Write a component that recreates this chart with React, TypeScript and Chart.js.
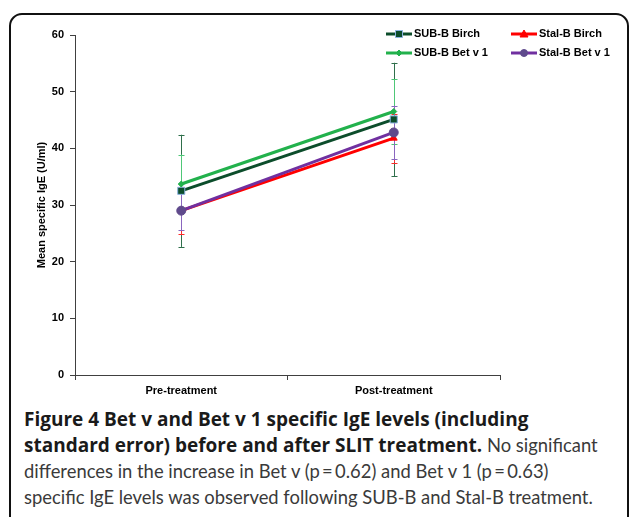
import React, { useEffect, useRef } from "react";
import { Chart, registerables } from "chart.js";

Chart.register(...registerables);

const categories = ["Pre-treatment", "Post-treatment"];
const seriesNames = ["SUB-B Birch", "Stal-B Birch", "SUB-B Bet v 1", "Stal-B Bet v 1"];
const subBBirch = [32.5, 45.1];
const stalBBirch = [29.0, 41.8];
const subBBetv1 = [33.7, 46.5];
const stalBBetv1 = [29.0, 42.8];
const subBBirchErr = [9.9, 10.0];
const stalBBirchErr = [4.2, 4.3];
const subBBetv1Err = [5.2, 5.7];
const stalBBetv1Err = [3.5, 4.7];
const yTicks = [0, 10, 20, 30, 40, 50, 60];

const lineColors = ["#0c4d2b", "#ff0000", "#22b14c", "#7030a0"];
const errColors = ["#2f6f4b", "#ff2a2a", "#4fc777", "#8a66bf"];
const pointFill = ["#0c4d2b", "#ff0000", "#22b14c", "#5f4a8c"];
const pointBorder = ["#8db3e2", "#ff0000", "#22b14c", "#5f4a8c"];
const pointStyles = ["rect", "triangle", "rectRot", "circle"];
const pointRadii = [5, 4, 3, 4.5];
const orders = [3, 2, 1, 0];

const errorBarPlugin = {
  id: "errorBars",
  beforeDatasetsDraw(chart: any) {
    const { ctx } = chart;
    const x = chart.scales.x;
    const y = chart.scales.y;
    chart.data.datasets.forEach((ds: any, di: number) => {
      const errs = ds.errors as number[];
      ctx.save();
      ctx.strokeStyle = errColors[di];
      ctx.lineWidth = 1;
      ds.data.forEach((v: number, i: number) => {
        const px = Math.round(x.getPixelForValue(i)) + 0.5;
        const top = y.getPixelForValue(v + errs[i]);
        const bot = y.getPixelForValue(v - errs[i]);
        ctx.beginPath();
        ctx.moveTo(px, top);
        ctx.lineTo(px, bot);
        ctx.moveTo(px - 3, Math.round(top) + 0.5);
        ctx.lineTo(px + 3, Math.round(top) + 0.5);
        ctx.moveTo(px - 3, Math.round(bot) + 0.5);
        ctx.lineTo(px + 3, Math.round(bot) + 0.5);
        ctx.stroke();
      });
      ctx.restore();
    });
  },
};

const legendPlugin = {
  id: "customLegend",
  afterDraw(chart: any) {
    const { ctx, chartArea } = chart;
    const right = chartArea.right;
    const cols = [right - 114, right + 11];
    const rows = [34, 53];
    const positions = [
      [cols[0], rows[0]],
      [cols[1], rows[0]],
      [cols[0], rows[1]],
      [cols[1], rows[1]],
    ];
    ctx.save();
    seriesNames.forEach((name, i) => {
      const [lx, ly] = positions[i];
      ctx.strokeStyle = lineColors[i];
      ctx.lineWidth = 3;
      ctx.beginPath();
      ctx.moveTo(lx, ly);
      ctx.lineTo(lx + 26, ly);
      ctx.stroke();
      ctx.fillStyle = pointFill[i];
      ctx.strokeStyle = pointBorder[i];
      ctx.lineWidth = 1;
      const cx = lx + 13;
      ctx.beginPath();
      if (pointStyles[i] === "rect") {
        ctx.rect(cx - 3.5, ly - 3.5, 7, 7);
      } else if (pointStyles[i] === "triangle") {
        ctx.moveTo(cx, ly - 4);
        ctx.lineTo(cx + 4, ly + 3);
        ctx.lineTo(cx - 4, ly + 3);
        ctx.closePath();
      } else if (pointStyles[i] === "rectRot") {
        ctx.moveTo(cx, ly - 3);
        ctx.lineTo(cx + 3, ly);
        ctx.lineTo(cx, ly + 3);
        ctx.lineTo(cx - 3, ly);
        ctx.closePath();
      } else {
        ctx.arc(cx, ly, 3.5, 0, Math.PI * 2);
      }
      ctx.fill();
      ctx.stroke();
      ctx.fillStyle = "#000";
      ctx.font = "bold 11px 'Liberation Sans', Arial, sans-serif";
      ctx.textBaseline = "middle";
      ctx.textAlign = "left";
      ctx.fillText(name, lx + 28, ly);
    });
    ctx.restore();
  },
};

export default function App() {
  const canvasRef = useRef<HTMLCanvasElement | null>(null);

  useEffect(() => {
    if (!canvasRef.current) return;
    const values = [subBBirch, stalBBirch, subBBetv1, stalBBetv1];
    const errors = [subBBirchErr, stalBBirchErr, subBBetv1Err, stalBBetv1Err];
    const chart = new Chart(canvasRef.current, {
      type: "line",
      data: {
        labels: categories,
        datasets: seriesNames.map((name, i) => ({
          label: name,
          data: values[i],
          errors: errors[i],
          borderColor: lineColors[i],
          backgroundColor: pointFill[i],
          pointBackgroundColor: pointFill[i],
          pointBorderColor: pointBorder[i],
          pointBorderWidth: 1,
          pointStyle: pointStyles[i],
          pointRadius: pointRadii[i],
          borderWidth: 3,
          tension: 0,
          order: orders[i],
        })) as any,
      },
      options: {
        animation: false,
        responsive: false,
        maintainAspectRatio: false,
        layout: { padding: { left: 0, top: 35, right: 129, bottom: 0 } },
        plugins: {
          legend: { display: false },
          tooltip: { enabled: false },
        },
        scales: {
          x: {
            type: "category",
            offset: true,
            grid: {
              offset: true,
              drawOnChartArea: false,
              drawTicks: true,
              tickLength: 5,
              color: "#404040",
            },
            border: { display: true, color: "#404040", width: 1 },
            ticks: {
              color: "#000",
              padding: 4,
              font: { family: "'Liberation Sans', Arial, sans-serif", size: 11, weight: "bold" },
            },
            afterFit: (s: any) => {
              s.height = 25;
            },
          },
          y: {
            min: 0,
            max: 60,
            afterBuildTicks: (s: any) => {
              s.ticks = yTicks.map((v) => ({ value: v }));
            },
            grid: {
              drawOnChartArea: false,
              drawTicks: true,
              tickLength: 5,
              color: "#404040",
            },
            border: { display: true, color: "#404040", width: 1 },
            ticks: {
              color: "#000",
              padding: 6,
              font: { family: "'Liberation Sans', Arial, sans-serif", size: 11, weight: "bold" },
            },
            title: {
              display: true,
              text: "Mean specific IgE (U/ml)",
              color: "#000",
              padding: { top: 35, bottom: 0 },
              font: { family: "'Liberation Sans', Arial, sans-serif", size: 11, weight: "bold" },
            },
            afterFit: (s: any) => {
              s.width = 75;
            },
          },
        },
      },
      plugins: [errorBarPlugin, legendPlugin],
    } as any);
    return () => chart.destroy();
  }, []);

  const boldStyle: React.CSSProperties = {
    fontFamily: "'Open Sans', sans-serif",
    fontWeight: 700,
    fontSize: 19,
    color: "#1a1a1a",
  };

  return (
    <div>
      <div
        style={{
          position: "fixed",
          left: 9,
          top: 13,
          width: 616,
          height: 560,
          border: "2px solid #111",
          borderRadius: 13,
          background: "#fff",
        }}
      />
      <canvas
        ref={canvasRef}
        width={629}
        height={400}
        style={{ position: "fixed", left: 0, top: 0, width: 629, height: 400 }}
      />
      <div
        style={{
          position: "fixed",
          left: 24,
          top: 406,
          whiteSpace: "nowrap",
          fontFamily: "Lato, sans-serif",
          fontSize: 18.4,
          lineHeight: "26px",
          color: "#3a3a3a",
        }}
      >
        <span style={boldStyle}>Figure 4 Bet v and Bet v 1 specific IgE levels (including</span>
        <br />
        <span style={boldStyle}>standard error) before and after SLIT treatment.</span> No significant
        <br />
        differences in the increase in Bet v (p{"\u2009"}={"\u2009"}0.62) and Bet v 1 (p{"\u2009"}={"\u2009"}0.63)
        <br />
        specific IgE levels was observed following SUB-B and Stal-B treatment.
      </div>
    </div>
  );
}
